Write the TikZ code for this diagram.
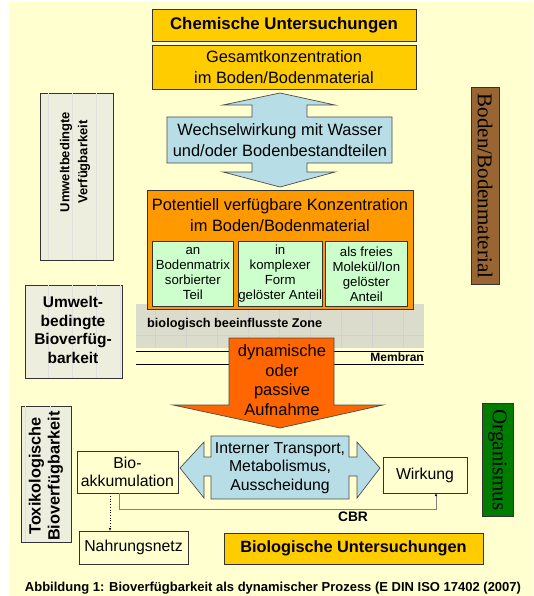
\documentclass[tikz,border=0pt]{standalone}
\usepackage{fontspec}
\setmainfont{Liberation Sans}
\newfontfamily\seriffam{Liberation Serif}
\usetikzlibrary{arrows.meta}

\definecolor{paper}{RGB}{255,255,208}
\definecolor{gold}{RGB}{255,204,0}
\definecolor{orangebox}{RGB}{255,153,0}
\definecolor{darkorange}{RGB}{255,102,0}
\definecolor{paleblue}{RGB}{183,222,230}
\definecolor{palegreen}{RGB}{204,255,204}
\definecolor{zonegray}{RGB}{220,220,204}
\definecolor{beige}{RGB}{238,238,222}
\definecolor{soilbrown}{RGB}{153,102,51}
\definecolor{orggreen}{RGB}{0,125,0}

\newcommand{\bigtxt}{\fontsize{16.4}{21}\selectfont}
\newcommand{\midtxt}{\fontsize{15.8}{18.5}\selectfont}
\newcommand{\smalltxt}{\fontsize{13.2}{15}\selectfont}

\begin{document}
\begin{tikzpicture}[x=1pt, y=-1pt,
  box/.style={draw=black!80, line width=0.7pt, inner sep=0pt, align=center},
  goldbox/.style={box, fill=gold},
  greenbox/.style={box, fill=palegreen, font=\smalltxt, anchor=north west},
  plainbox/.style={box, fill=paper, font=\midtxt},
  sidebox/.style={box, fill=beige, font=\bfseries},
  arrowshape/.style={draw=black!70, line width=0.7pt},
  gridline/.style={black!12, line width=0.4pt}]

  \useasboundingbox (0,0) rectangle (533,596);
  \fill[paper] (9,2) rectangle (533,596);

  % chemical part
  \node[goldbox, minimum width=264, minimum height=32, font=\fontsize{16.8}{19}\selectfont\bfseries]
    (chem) at (284,25) {Chemische Untersuchungen};
  \node[goldbox, minimum width=264, minimum height=44, font=\bigtxt]
    (gesamt) at (284,67) {Gesamtkonzentration\\im Boden/Bodenmaterial};

  \draw[arrowshape, fill=paleblue] (280,93) -- (335,105) -- (307,105) -- (307,117)
    -- (392,117) -- (392,163) -- (307,163) -- (307,172) -- (335,172) -- (280,187)
    -- (223,172) -- (252,172) -- (252,163) -- (167,163) -- (167,117) -- (252,117)
    -- (252,105) -- (223,105) -- cycle;
  \node[align=center, font=\bigtxt] (wechsel) at (280,140)
    {Wechselwirkung mit Wasser\\und/oder Bodenbestandteilen};

  % zone and membrane
  \fill[zonegray] (136,304) rectangle (424,348);
  \draw[gridline, black!18] (136,304) grid[xstep=31, ystep=31] (424,348);
  \draw[gridline, black!18] (136,335) -- (424,335);

  \node[box, fill=orangebox, minimum width=266, minimum height=119, anchor=north west]
    (potential) at (147,190) {};
  \node[align=center, font=\bigtxt] (pottitle) at (280,215)
    {Potentiell verfügbare Konzentration\\im Boden/Bodenmaterial};
  \node[greenbox, minimum width=81, minimum height=65] (sorbiert) at (152,241)
    {an\\Bodenmatrix\\sorbierter\\Teil};
  \node[greenbox, minimum width=82, minimum height=65] (komplex) at (238,241)
    {in\\komplexer\\Form\\gelöster Anteil};
  \node[greenbox, minimum width=82, minimum height=65] (frei) at (325,241)
    {als freies\\Molekül/Ion\\gelöster\\Anteil};

  \node[font=\fontsize{12.7}{14}\selectfont\bfseries, anchor=west, inner sep=0pt]
    (zone) at (147,324) {biologisch beeinflusste Zone};

  \draw[line width=0.9pt] (136,351) -- (424,351);
  \draw[line width=0.9pt] (136,364) -- (424,364);
  \node[font=\fontsize{12}{13}\selectfont\bfseries, anchor=east, inner sep=0pt]
    (membran) at (424,357.5) {Membran};

  \draw[arrowshape, fill=darkorange] (229,338) -- (334,338) -- (334,405) -- (383,405)
    -- (280,428) -- (173,405) -- (229,405) -- cycle;
  \node[align=center, font=\fontsize{16.5}{19.5}\selectfont] (aufnahme) at (282,380)
    {dynamische\\oder\\passive\\Aufnahme};

  % side labels
  \node[sidebox, minimum width=73, minimum height=167, anchor=north west] (umwelt) at (40,93) {};
  \draw[gridline] (40,93) grid[xstep=24, ystep=28] (113,260);
  \node[rotate=90, align=center, font=\fontsize{13}{18}\selectfont\bfseries] (umwelttxt) at (75,162)
    {Umweltbedingte\\Verfügbarkeit};

  \node[sidebox, minimum width=97, minimum height=93, anchor=north west] (bioumwelt) at (25,285) {};
  \draw[gridline] (25,285) grid[xstep=24, ystep=24] (122,378);
  \node[align=center, font=\fontsize{15.5}{18.5}\selectfont\bfseries] (bioumwelttxt) at (73,330)
    {Umwelt-\\bedingte\\Bioverfüg-\\barkeit};

  \node[sidebox, minimum width=50, minimum height=136, anchor=north west] (toxbox) at (21,406) {};
  \draw[gridline] (21,406) grid[xstep=25, ystep=34] (71,542);
  \node[rotate=90, align=center, font=\fontsize{16.3}{19}\selectfont\bfseries] (toxtxt) at (46,476)
    {Toxikologische\\Bioverfügbarkeit};

  \node[box, fill=soilbrown, minimum width=28, minimum height=197, anchor=north west] (boden) at (471,87) {};
  \node[rotate=-90, font=\fontsize{21}{22}\selectfont\seriffam] (bodentxt) at (485,186)
    {Boden/Bodenmaterial};

  \node[box, fill=orggreen, minimum width=31, minimum height=113, anchor=north west] (organ) at (482,403) {};
  \node[rotate=-90, font=\fontsize{21}{22}\selectfont\seriffam] (organtxt) at (497.5,460)
    {Organismus};

  % organism part
  \draw[arrowshape, fill=paleblue] (180,468) -- (204,442) -- (204,457) -- (211,457)
    -- (211,436) -- (349,436) -- (349,457) -- (357,457) -- (357,442) -- (380,468)
    -- (357,498) -- (357,476) -- (349,476) -- (349,499) -- (211,499) -- (211,476)
    -- (204,476) -- (204,498) -- cycle;
  \node[align=center, font=\midtxt] (intern) at (280,468)
    {Interner Transport,\\Metabolismus,\\Ausscheidung};

  \node[plainbox, minimum width=101, minimum height=42] (bioakk) at (127.5,472)
    {Bio-\\akkumulation};
  \node[plainbox, minimum width=84, minimum height=36] (wirkung) at (425,475) {Wirkung};
  \node[plainbox, minimum width=109, minimum height=33] (nahrung) at (133.5,547.5) {Nahrungsnetz};
  \node[goldbox, minimum width=259, minimum height=31, font=\fontsize{16.3}{18}\selectfont\bfseries]
    (biolog) at (353.5,548.5) {Biologische Untersuchungen};

  \draw[black!50, line width=0.6pt, -{Stealth[length=3pt, width=2.5pt, black]}]
    ([xshift=-8.5]bioakk.south) -- ++(0,16) -| ([xshift=11]wirkung.south);
  \node[font=\fontsize{13.8}{16}\selectfont\bfseries] (cbr) at (353,517) {CBR};
  \draw[dotted, line width=0.7pt, -{Stealth[length=3pt, width=2.5pt]}]
    ([xshift=-17.5]bioakk.south) -- ([xshift=-23.5]nahrung.north);

  \node[font=\fontsize{13}{14}\selectfont\bfseries] (caption) at (273,588)
    {Abbildung 1: Bioverfügbarkeit als dynamischer Prozess (E DIN ISO 17402 (2007)};
\end{tikzpicture}
\end{document}
